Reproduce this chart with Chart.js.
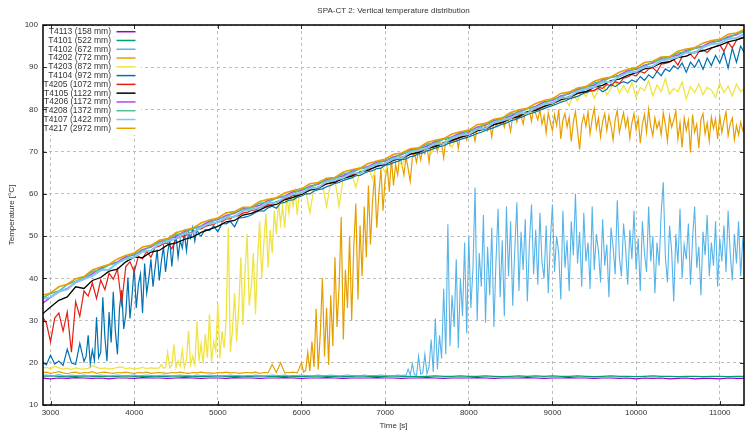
<!DOCTYPE html>
<html>
<head>
<meta charset="utf-8">
<title>SPA-CT 2: Vertical temperature distribution</title>
<script src="https://cdn.jsdelivr.net/npm/chart.js@4.4.1/dist/chart.umd.min.js"></script>
<style>
    html, body { margin: 0; padding: 0; background: #fff; }
    #wrap { width: 747px; height: 432px; }
</style>
</head>
<body>
<div id="wrap"><canvas id="tempChart" width="747" height="432"></canvas></div>
<script>
// Sample times [s]
const timeFine = [
    2900, 2950, 3000, 3050, 3100, 3150, 3200, 3250, 3300, 3350,
    3400, 3450, 3500, 3550, 3600, 3650, 3700, 3750, 3800, 3850,
    3900, 3950, 4000, 4050, 4100, 4150, 4200, 4250, 4300, 4350,
    4400, 4450, 4500, 4550, 4600, 4650, 4700, 4750, 4800, 4850,
    4900, 4950, 5000, 5050, 5100, 5150, 5200, 5250, 5300, 5350,
    5400, 5450, 5500, 5550, 5600, 5650, 5700, 5750, 5800, 5850,
    5900, 5950, 6000, 6050, 6100, 6150, 6200, 6250, 6300, 6350,
    6400, 6450, 6500, 6550, 6600, 6650, 6700, 6750, 6800, 6850,
    6900, 6950, 7000, 7050, 7100, 7150, 7200, 7250, 7300, 7350,
    7400, 7450, 7500, 7550, 7600, 7650, 7700, 7750, 7800, 7850,
    7900, 7950, 8000, 8050, 8100, 8150, 8200, 8250, 8300, 8350,
    8400, 8450, 8500, 8550, 8600, 8650, 8700, 8750, 8800, 8850,
    8900, 8950, 9000, 9050, 9100, 9150, 9200, 9250, 9300, 9350,
    9400, 9450, 9500, 9550, 9600, 9650, 9700, 9750, 9800, 9850,
    9900, 9950, 10000, 10050, 10100, 10150, 10200, 10250, 10300, 10350,
    10400, 10450, 10500, 10550, 10600, 10650, 10700, 10750, 10800, 10850,
    10900, 10950, 11000, 11050, 11100, 11150, 11200, 11250, 11300
];
const timeCoarse = [
    2900, 3000, 3100, 3200, 3300, 3400, 3500, 3600, 3700, 3800,
    3900, 4000, 4100, 4200, 4300, 4400, 4500, 4600, 4700, 4800,
    4900, 5000, 5100, 5200, 5300, 5400, 5500, 5600, 5700, 5800,
    5900, 6000, 6100, 6200, 6300, 6400, 6500, 6600, 6700, 6800,
    6900, 7000, 7100, 7200, 7300, 7400, 7500, 7600, 7700, 7800,
    7900, 8000, 8100, 8200, 8300, 8400, 8500, 8600, 8700, 8800,
    8900, 9000, 9100, 9200, 9300, 9400, 9500, 9600, 9700, 9800,
    9900, 10000, 10100, 10200, 10300, 10400, 10500, 10600, 10700, 10800,
    10900, 11000, 11100, 11200, 11300
];
// 25 s windows where a sensor rises quickly
const timeRiseA = [
    3400, 3425, 3450, 3475, 3500, 3525, 3550, 3575,
    3600, 3625, 3650, 3675, 3700, 3725, 3750, 3775,
    3800, 3825, 3850, 3875, 3900, 3925, 3950, 3975,
    4000, 4025, 4050, 4075, 4100, 4125, 4150, 4175,
    4200, 4225, 4250, 4275, 4300, 4325, 4350, 4375,
    4400, 4425, 4450, 4475, 4500, 4525, 4550, 4575,
    4600, 4625, 4650, 4675, 4700, 4725, 4750, 4775
];
const timeRiseB = [
    4300, 4325, 4350, 4375, 4400, 4425, 4450, 4475,
    4500, 4525, 4550, 4575, 4600, 4625, 4650, 4675,
    4700, 4725, 4750, 4775, 4800, 4825, 4850, 4875,
    4900, 4925, 4950, 4975, 5000, 5025, 5050, 5075,
    5100, 5125, 5150, 5175, 5200, 5225, 5250, 5275,
    5300, 5325, 5350, 5375, 5400, 5425, 5450, 5475,
    5500, 5525, 5550, 5575, 5600, 5625, 5650, 5675,
    5700, 5725, 5750, 5775, 5800, 5825, 5850, 5875,
    5900, 5925, 5950, 5975
];
const timeRiseC = [
    6000, 6025, 6050, 6075, 6100, 6125, 6150, 6175,
    6200, 6225, 6250, 6275, 6300, 6325, 6350, 6375,
    6400, 6425, 6450, 6475, 6500, 6525, 6550, 6575,
    6600, 6625, 6650, 6675, 6700, 6725, 6750, 6775,
    6800, 6825, 6850, 6875, 6900, 6925, 6950, 6975,
    7000, 7025, 7050, 7075, 7100, 7125, 7150, 7175
];
const timeDense = [
    7200, 7225, 7250, 7275, 7300, 7325, 7350, 7375,
    7400, 7425, 7450, 7475, 7500, 7525, 7550, 7575,
    7600, 7625, 7650, 7675, 7700, 7725, 7750, 7775,
    7800, 7825, 7850, 7875, 7900, 7925, 7950, 7975,
    8000, 8025, 8050, 8075, 8100, 8125, 8150, 8175,
    8200, 8225, 8250, 8275, 8300, 8325, 8350, 8375,
    8400, 8425, 8450, 8475, 8500, 8525, 8550, 8575,
    8600, 8625, 8650, 8675, 8700, 8725, 8750, 8775,
    8800, 8825, 8850, 8875, 8900, 8925, 8950, 8975,
    9000, 9025, 9050, 9075, 9100, 9125, 9150, 9175,
    9200, 9225, 9250, 9275, 9300, 9325, 9350, 9375,
    9400, 9425, 9450, 9475, 9500, 9525, 9550, 9575,
    9600, 9625, 9650, 9675, 9700, 9725, 9750, 9775,
    9800, 9825, 9850, 9875, 9900, 9925, 9950, 9975,
    10000, 10025, 10050, 10075, 10100, 10125, 10150, 10175,
    10200, 10225, 10250, 10275, 10300, 10325, 10350, 10375,
    10400, 10425, 10450, 10475, 10500, 10525, 10550, 10575,
    10600, 10625, 10650, 10675, 10700, 10725, 10750, 10775,
    10800, 10825, 10850, 10875, 10900, 10925, 10950, 10975,
    11000, 11025, 11050, 11075, 11100, 11125, 11150, 11175,
    11200, 11225, 11250, 11275, 11300
];

// Temperatures [°C]
const t4113 = [
    16.4, 16.2, 16.4, 16.3, 16.5, 16.4, 16.3, 16.4, 16.2, 16.4,
    16.4, 16.3, 16.5, 16.4, 16.4, 16.3, 16.4, 16.5, 16.4, 16.3,
    16.4, 16.4, 16.3, 16.5, 16.4, 16.4, 16.3, 16.4, 16.4, 16.5,
    16.4, 16.3, 16.4, 16.4, 16.5, 16.4, 16.3, 16.4, 16.4, 16.4,
    16.5, 16.4, 16.4, 16.3, 16.4, 16.4, 16.5, 16.4, 16.3, 16.4,
    16.4, 16.4, 16.5, 16.4, 16.3, 16.4, 16.4, 16.4, 16.5, 16.4,
    16.3, 16.4, 16.4, 16.5, 16.4, 16.4, 16.3, 16.4, 16.4, 16.3,
    16.4, 16.2, 16.4, 16.3, 16.4, 16.2, 16.3, 16.4, 16.2, 16.3,
    16.3, 16.2, 16.4, 16.3, 16.3
];
const t4101 = [
    16.8, 16.9, 16.8, 16.7, 16.8, 16.9, 16.8, 16.8, 16.7, 16.8,
    16.9, 16.8, 16.8, 16.7, 16.8, 16.8, 16.9, 16.8, 16.7, 16.8,
    16.8, 16.9, 16.8, 16.8, 16.7, 16.8, 16.9, 16.8, 16.8, 16.8,
    16.7, 16.8, 16.8, 16.9, 16.8, 16.8, 16.7, 16.8, 16.9, 16.8,
    16.8, 16.8, 16.9, 16.8, 16.8, 16.7, 16.8, 16.9, 16.8, 16.8,
    16.9, 16.8, 16.8, 16.9, 16.8, 16.7, 16.8, 16.9, 16.8, 16.9,
    16.8, 16.9, 16.8, 16.8, 16.9, 16.8, 16.7, 16.8, 16.9, 16.8,
    16.8, 16.7, 16.8, 16.9, 16.8, 16.8, 16.7, 16.8, 16.8, 16.7,
    16.8, 16.8, 16.7, 16.8, 16.8
];
const t4102Early = [
    17.0, 17.1, 16.9, 17.0, 17.2, 17.0, 16.9, 17.1, 17.0, 17.0,
    17.1, 16.9, 17.0, 17.0, 17.1, 17.0, 16.9, 17.0, 17.1, 17.0,
    17.0, 17.0, 17.1, 16.9, 17.0, 17.1, 17.0, 16.9, 17.0, 17.1,
    17.0, 16.9, 17.0, 17.1, 17.0, 17.0, 16.9, 17.1, 17.0, 17.0,
    17.1, 17.0, 16.9, 17.0, 17.0, 17.1, 17.0, 17.0, 16.9, 17.0,
    17.0, 17.1, 17.0, 16.9, 17.0, 17.1, 17.0, 17.0, 17.1, 16.9,
    17.0, 17.0, 17.1, 17.0, 16.9, 17.0, 17.1, 17.0, 17.0, 17.1,
    17.0, 16.9, 17.0, 17.1, 17.0, 17.0, 16.9, 17.1, 17.0, 17.0,
    17.0, 17.1, 17.0, 17.0, 16.9, 17.1
];
const t4102Late = [
    17.0, 17.1, 17.0, 18.5, 17.1, 19.8, 17.2, 17.0,
    21.5, 17.3, 17.6, 22.0, 17.4, 19.0, 25.5, 17.8,
    30.5, 18.4, 26.5, 21.0, 37.5, 22.0, 52.8, 24.0,
    36.0, 28.5, 44.5, 23.5, 40.0, 31.0, 48.5, 27.0,
    50.0, 33.0, 42.5, 61.5, 30.0, 46.0, 38.0, 55.0,
    29.5, 47.5, 36.0, 52.0, 28.5, 44.0, 56.5, 35.5,
    49.0, 31.0, 57.0, 40.5, 53.5, 33.5, 47.0, 58.0,
    37.0, 51.0, 42.0, 54.0, 34.5, 48.5, 57.5, 41.0,
    51.5, 38.5, 55.5, 44.0, 40.0, 52.5, 36.5, 49.0,
    57.5, 41.5, 50.0, 46.0, 35.0, 56.0, 42.5, 49.0,
    37.0, 53.5, 45.5, 60.0, 43.5, 51.0, 38.0, 55.5,
    44.0, 48.5, 37.5, 57.0, 42.0, 50.5, 46.5, 39.0,
    54.0, 43.0, 48.0, 35.5, 52.0, 47.5, 41.0, 58.5,
    45.0, 40.5, 53.0, 47.0, 38.5, 51.5, 44.5, 56.0,
    42.0, 49.5, 37.0, 53.5, 46.0, 41.5, 57.0, 44.0,
    50.0, 36.5, 48.5, 43.0, 55.5, 62.8, 45.0, 39.0,
    52.5, 46.5, 34.5, 50.5, 43.5, 56.5, 40.0, 48.0,
    44.5, 53.0, 38.5, 49.5, 57.0, 42.5, 47.5, 36.0,
    51.0, 45.5, 55.0, 40.5, 48.5, 43.0, 53.5, 38.0,
    49.5, 44.0, 52.5, 41.5, 56.0, 46.0, 39.5, 50.5,
    43.5, 53.5, 40.5, 49.0, 46.0
];
const t4202Start = [
    17.6, 17.8, 17.5, 17.7, 17.9, 17.6, 17.4, 17.7, 17.8, 17.5,
    17.7, 17.6, 17.9, 17.5, 17.7, 17.8, 17.6, 17.5, 17.7, 17.6,
    17.8, 17.6, 17.5, 17.7, 17.6, 17.8, 17.5, 17.6, 17.7, 17.6,
    17.5, 17.7, 17.6, 17.8, 17.6, 17.5, 17.7, 17.6, 17.8, 17.6,
    17.6, 17.5, 17.7, 17.6, 17.8, 17.6, 17.7, 17.5, 17.6, 17.7,
    17.6, 17.8, 17.5, 17.7, 17.6, 19.6, 17.7, 20.0, 17.6, 17.7,
    17.8, 17.6
];
const t4202Rise = [
    20.0, 17.8, 18.2, 22.5, 18.0, 25.0, 19.0, 32.8,
    18.4, 27.0, 40.0, 21.5, 33.0, 19.5, 36.0, 24.0,
    45.0, 28.5, 38.0, 54.5, 25.5, 42.0, 33.0, 50.0,
    30.0, 47.5, 57.7, 35.0, 52.5, 40.5, 57.0, 45.0,
    62.0, 48.0, 58.5, 64.5, 52.0, 60.0, 66.0, 56.0,
    63.5, 66.5, 60.5, 68.5, 62.0, 67.0, 64.5, 69.0
];
const t4202Late = [
    67.0, 64.5, 68.8, 66.0, 63.0, 68.5, 69.6, 67.5,
    70.3, 68.0, 70.8, 69.5, 71.2, 67.5, 71.6, 70.9,
    72.2, 70.0, 72.5, 71.8, 68.5, 72.9, 73.2, 71.5,
    73.4, 72.6, 73.9, 70.8, 74.2, 73.5, 74.6, 72.8,
    74.8, 73.9, 75.1, 72.5, 75.6, 74.9, 76.0, 75.2,
    76.3, 75.0, 76.7, 73.5, 77.0, 76.2, 77.4, 76.6,
    77.7, 75.8, 78.0, 77.3, 74.8, 78.5, 78.8, 77.0,
    79.1, 78.4, 76.5, 79.5, 78.8, 79.8, 77.2, 80.1,
    79.0, 77.5, 80.0, 76.5, 78.5, 74.5, 79.2, 77.0,
    75.0, 78.8, 76.2, 80.0, 73.0, 77.5, 79.0, 75.8,
    78.2, 72.4, 77.0, 79.5, 74.8, 70.5, 76.5, 78.6,
    76.0, 79.4, 74.2, 77.8, 80.3, 75.5, 78.0, 73.5,
    77.2, 79.0, 75.0, 78.5, 76.2, 72.8, 77.6, 79.8,
    74.5, 77.0, 79.2, 75.8, 78.0, 73.2, 76.8, 79.0,
    75.2, 77.8, 72.0, 76.5, 78.8, 74.6, 80.0, 76.0,
    73.8, 78.0, 75.5, 77.2, 74.0, 79.2, 76.4, 72.5,
    78.5, 75.8, 77.5, 79.6, 73.0, 76.8, 71.0, 78.0,
    75.0, 77.4, 69.8, 78.8, 74.6, 76.5, 70.8, 77.6,
    79.0, 74.2, 76.8, 72.5, 78.2, 75.5, 77.8, 73.0,
    78.5, 74.5, 77.2, 79.4, 73.8, 76.6, 78.0, 72.8,
    76.2, 74.0, 77.0, 75.0, 76.5
];
const t4203Start = [
    18.7, 18.9, 18.6, 19.2, 18.8, 18.5, 18.7, 18.4, 18.8, 18.6,
    18.5, 18.7, 19.3, 18.9, 18.6, 18.8, 18.5, 18.7, 18.9, 19.0,
    18.6, 18.8, 18.5, 18.7, 18.9, 18.6, 18.8, 18.7
];
const t4203Rise = [
    18.8, 19.6, 18.7, 18.9, 22.5, 18.8, 19.4, 24.3,
    18.9, 20.5, 19.2, 23.0, 18.8, 20.8, 27.5, 19.6,
    21.5, 19.5, 29.8, 20.4, 24.5, 19.8, 26.8, 21.2,
    31.5, 20.2, 25.0, 22.8, 34.0, 21.0, 27.5, 23.5,
    30.5, 52.0, 22.5, 28.0, 36.5, 25.0, 33.0, 45.0,
    29.0, 41.5, 50.5, 33.5, 38.0, 46.0, 31.5, 44.5,
    53.5, 40.0, 48.5, 55.4, 42.5, 51.5, 46.0, 56.0,
    50.5, 58.2, 53.0, 57.0, 52.0, 59.8, 55.5, 60.0,
    57.0, 60.5, 55.0, 61.0
];
const t4203Rest = [
    59.6, 60.9, 55.5, 61.6, 61.4, 62.2, 57.0, 63.0,
    63.3, 57.0, 64.1, 64.2, 64.8, 61.5, 65.5, 65.8, 66.2, 63.5,
    66.8, 67.1, 65.0, 67.9, 68.2, 68.5, 66.5, 69.3, 69.6, 69.9,
    70.3, 70.6, 71.0, 69.5, 71.7, 72.0, 72.3, 72.6, 71.0, 73.4,
    73.7, 74.0, 74.4, 74.7, 75.1, 75.4, 75.8, 76.2, 76.5, 76.9,
    77.0, 77.3, 77.8, 78.0, 78.2, 78.6, 79.0, 79.2, 79.6, 80.0,
    80.5, 81.3, 81.0, 82.2, 81.8, 82.6, 80.9, 83.5, 82.0, 84.3,
    83.0, 85.5, 82.6, 84.8, 86.2, 83.4, 85.0, 87.0, 83.8, 85.6,
    84.0, 86.4, 82.8, 85.2, 84.5, 86.8, 83.2, 85.8, 84.2, 87.3,
    83.6, 85.0, 84.2, 86.5, 82.5, 85.4, 84.0, 86.0, 83.5, 85.2,
    84.6, 82.8, 86.3, 84.0, 85.5, 83.2, 86.0, 84.2, 85.0
];
const t4104Start = [
    20.2, 19.5, 21.8, 19.7, 20.4, 19.4, 23.2, 20.0, 19.6, 24.6
];
const t4104Rise = [
    20.3, 21.5, 26.5, 19.8, 23.0, 20.5, 30.8, 21.2,
    22.5, 35.5, 26.0, 20.4, 32.0, 24.8, 36.8, 27.5,
    22.0, 33.0, 37.2, 28.0, 31.5, 40.2, 30.5, 36.0,
    42.8, 33.0, 38.5, 41.0, 31.8, 43.5, 36.5, 40.0,
    44.5, 38.0, 42.5, 46.8, 39.5, 44.0, 47.5, 41.5,
    46.0, 49.2, 42.8, 48.0, 50.3, 45.0, 49.0, 47.2,
    50.8, 46.5, 51.0, 49.5, 52.0, 48.8, 51.6, 50.4
];
const t4104Rest = [
    50.0, 51.6,
    51.3, 52.4, 51.0, 53.0, 52.9, 53.5, 52.2, 54.3, 54.4, 54.6,
    55.0, 55.6, 56.0, 55.9, 56.7, 57.1, 56.6, 57.8, 58.0, 58.5,
    58.6, 59.2, 59.5, 60.0, 60.0, 60.7, 61.0, 61.2, 61.7, 62.0,
    62.5, 62.7, 63.2, 63.5, 63.8, 64.3, 64.4, 64.9, 65.3, 65.5,
    66.0, 66.1, 66.8, 67.0, 67.4, 67.7, 68.1, 68.3, 68.8, 69.0,
    69.5, 69.7, 70.2, 70.5, 70.8, 71.2, 71.4, 71.9, 72.2, 72.5,
    72.9, 73.2, 73.5, 73.9, 74.3, 74.6, 75.0, 75.4, 75.7, 76.1,
    76.5, 76.8, 77.3, 77.6, 78.0, 78.3, 78.8, 79.1, 79.4, 79.8,
    80.2, 80.6, 80.9, 81.3, 81.7, 82.0, 82.5, 82.8, 83.1, 83.6,
    84.0, 84.3, 84.6, 85.0, 84.2, 84.8, 86.0, 85.4, 86.1, 86.6,
    86.2, 87.0, 86.5, 87.8, 86.9, 88.2, 87.4, 89.0, 88.0, 89.6,
    89.0, 90.4, 89.6, 91.0, 88.8, 91.2, 90.0, 91.8, 89.5, 92.2,
    90.4, 92.8, 91.0, 93.6, 89.8, 94.5, 91.2, 95.0, 93.2
];
const t4205 = [
    31.0, 29.4, 25.0, 30.6, 31.8, 27.5, 32.0, 22.5, 34.5, 31.0,
    37.0, 35.8, 38.9, 35.2, 39.6, 37.3, 41.2, 39.8, 42.2, 34.0,
    42.8, 43.9, 41.5, 45.2, 44.6, 46.4, 45.0, 47.3, 47.6, 48.2,
    48.4, 47.0, 49.3, 49.8, 50.0, 50.6, 50.9, 51.5, 51.7, 52.3,
    52.6, 52.7, 53.5, 53.4, 54.1, 54.1, 54.8, 54.8, 55.5, 55.6,
    56.1, 56.2, 56.8, 57.0, 57.5, 57.6, 58.2, 58.4, 58.9, 59.1,
    59.6, 59.7, 60.3, 60.5, 61.0, 61.1, 61.7, 61.9, 62.4, 62.6,
    63.1, 63.2, 63.8, 64.0, 64.5, 64.7, 65.2, 65.4, 65.9, 66.1,
    66.6, 66.8, 67.3, 67.5, 68.0, 68.2, 68.7, 68.9, 69.4, 69.6,
    70.1, 70.3, 70.8, 71.0, 71.5, 71.6, 72.1, 72.4, 72.8, 73.1,
    73.5, 73.7, 74.2, 74.4, 74.9, 75.2, 75.7, 75.9, 76.4, 76.7,
    77.1, 77.4, 77.9, 78.1, 78.6, 78.9, 79.4, 79.6, 80.1, 80.4,
    80.8, 81.1, 81.6, 81.8, 82.3, 82.6, 83.1, 83.3, 83.8, 84.1,
    84.2, 84.5, 84.4, 85.2, 85.0, 85.9, 85.6, 86.6, 86.2, 87.4,
    87.7, 88.3, 87.9, 89.0, 88.6, 89.6, 89.9, 88.9, 90.7, 90.9,
    91.2, 91.8, 90.5, 92.5, 92.6, 93.1, 92.0, 93.7, 94.1, 93.5,
    94.5, 94.9, 95.3, 93.8, 95.9, 94.6, 96.4, 96.9, 97.2
];
const t4105 = [
    31.5, 33.2, 34.8, 35.6, 38.0, 37.6, 39.5, 40.2, 41.7, 42.2,
    43.9, 45.0, 44.9, 46.2, 46.6, 47.9, 48.4, 49.2, 49.8, 50.9,
    51.6, 52.3, 53.4, 53.7, 55.0, 55.4, 56.2, 57.1, 57.5, 58.6,
    59.2, 59.9, 60.9, 61.3, 62.4, 62.7, 63.7, 64.2, 65.1, 65.6,
    66.5, 67.0, 68.0, 68.4, 69.4, 69.8, 70.8, 71.2, 72.1, 72.6,
    73.4, 74.0, 75.0, 75.4, 76.4, 76.9, 77.9, 78.3, 79.4, 79.8,
    80.7, 81.4, 82.3, 82.8, 83.8, 84.2, 85.3, 85.7, 86.8, 87.2,
    88.1, 88.7, 89.6, 90.0, 91.0, 91.3, 92.3, 92.6, 93.6, 93.9,
    94.6, 95.2, 96.0, 96.5, 97.1
];
const t4206 = [
    34.0, 35.5, 36.8, 37.6, 39.0, 39.8, 41.1, 42.4, 43.2, 43.9,
    45.1, 45.6, 46.8, 47.4, 48.7, 49.3, 49.9, 51.1, 51.8, 52.4,
    53.5, 53.9, 54.9, 55.4, 56.5, 56.8, 57.3, 58.4, 59.0, 59.5,
    60.5, 60.8, 61.8, 62.3, 63.4, 63.8, 64.3, 65.4, 66.0, 66.5,
    67.5, 67.8, 68.8, 69.3, 70.4, 70.8, 71.3, 72.4, 73.0, 73.5,
    74.4, 74.7, 75.8, 76.3, 77.4, 77.9, 78.4, 79.6, 80.2, 80.7,
    81.8, 82.1, 83.2, 83.7, 84.8, 85.3, 85.8, 87.0, 87.6, 88.1,
    89.2, 89.5, 90.5, 91.0, 92.1, 92.4, 92.9, 94.0, 94.5, 95.0,
    96.0, 96.2, 97.2, 97.7, 98.7
];
const t4208 = [
    35.3, 36.4, 37.0, 38.5, 39.3, 40.2, 41.6, 42.0, 43.2, 43.7,
    44.7, 45.9, 46.4, 47.7, 48.4, 49.2, 50.4, 50.7, 51.8, 52.2,
    53.1, 54.2, 54.5, 55.7, 56.2, 56.7, 57.8, 58.0, 59.0, 59.3,
    60.1, 61.1, 61.4, 62.6, 63.1, 63.7, 64.8, 65.0, 66.0, 66.3,
    67.1, 68.1, 68.4, 69.6, 70.1, 70.7, 71.8, 72.0, 73.0, 73.3,
    74.0, 75.0, 75.4, 76.6, 77.1, 77.8, 78.9, 79.2, 80.2, 80.5,
    81.4, 82.4, 82.8, 84.0, 84.5, 85.2, 86.3, 86.6, 87.6, 87.9,
    88.8, 89.8, 90.1, 91.3, 91.8, 92.3, 93.4, 93.6, 94.5, 94.8,
    95.6, 96.5, 96.8, 98.0, 98.4
];
const t4107 = [
    35.2, 35.5, 36.9, 37.4, 39.1, 39.8, 40.6, 41.9, 42.1, 43.6,
    44.6, 45.0, 46.3, 46.6, 48.2, 48.8, 49.4, 50.6, 50.7, 52.1,
    53.0, 53.3, 54.4, 54.6, 56.0, 56.3, 56.8, 57.9, 57.9, 59.2,
    60.0, 60.2, 61.3, 61.5, 62.9, 63.3, 63.8, 64.9, 64.9, 66.2,
    67.0, 67.2, 68.3, 68.5, 69.9, 70.3, 70.8, 71.9, 71.9, 73.2,
    73.9, 74.1, 75.3, 75.5, 76.9, 77.4, 77.9, 79.1, 79.1, 80.4,
    81.3, 81.5, 82.7, 82.9, 84.3, 84.8, 85.3, 86.5, 86.5, 87.8,
    88.7, 88.9, 90.0, 90.2, 91.6, 91.9, 92.4, 93.5, 93.4, 94.7,
    95.5, 95.6, 96.7, 96.9, 98.0
];
const t4217 = [
    36.0, 36.5, 38.0, 38.6, 39.9, 40.4, 42.0, 42.7, 43.3, 44.6,
    45.4, 46.0, 47.4, 47.8, 49.0, 49.4, 50.8, 51.4, 51.9, 53.1,
    53.8, 54.3, 55.5, 55.8, 56.8, 56.9, 58.2, 58.7, 59.1, 60.2,
    60.8, 61.2, 62.4, 62.7, 63.7, 63.9, 65.2, 65.7, 66.1, 67.2,
    67.8, 68.2, 69.4, 69.7, 70.7, 70.9, 72.2, 72.7, 73.1, 74.2,
    74.7, 75.1, 76.4, 76.7, 77.7, 78.0, 79.3, 79.9, 80.3, 81.4,
    82.1, 82.5, 83.8, 84.1, 85.1, 85.4, 86.7, 87.3, 87.7, 88.8,
    89.5, 89.9, 91.1, 91.4, 92.4, 92.5, 93.8, 94.3, 94.6, 95.7,
    96.3, 96.6, 97.8, 98.1, 99.0
];

const yTicks = [10, 20, 30, 40, 50, 60, 70, 80, 90, 100];
const xTicks = [3000, 4000, 5000, 6000, 7000, 8000, 9000, 10000, 11000];

const FONT = '"Liberation Sans", Arial, sans-serif';

const sensors = [
    { label: 'T4113 (158 mm)',  color: '#9400d3', width: 1.2,
      time: timeCoarse, temp: t4113 },
    { label: 'T4101 (522 mm)',  color: '#009e73', width: 1.2,
      time: timeCoarse, temp: t4101 },
    { label: 'T4102 (672 mm)',  color: '#56b4e9', width: 1.1,
      time: timeFine.slice(0, 86).concat(timeDense),
      temp: t4102Early.concat(t4102Late) },
    { label: 'T4202 (772 mm)',  color: '#e69f00', width: 1.2,
      time: timeFine.slice(0, 62).concat(timeRiseC, timeDense),
      temp: t4202Start.concat(t4202Rise, t4202Late) },
    { label: 'T4203 (872 mm)',  color: '#f0e442', width: 1.3,
      time: timeFine.slice(0, 28).concat(timeRiseB, timeFine.slice(62)),
      temp: t4203Start.concat(t4203Rise, t4203Rest) },
    { label: 'T4104 (972 mm)',  color: '#0072b2', width: 1.2,
      time: timeFine.slice(0, 10).concat(timeRiseA, timeFine.slice(38)),
      temp: t4104Start.concat(t4104Rise, t4104Rest) },
    { label: 'T4205 (1072 mm)', color: '#e51e10', width: 1.2,
      time: timeFine, temp: t4205 },
    { label: 'T4105 (1122 mm)', color: '#000000', width: 1.3,
      time: timeCoarse, temp: t4105 },
    { label: 'T4206 (1172 mm)', color: '#a64ee6', width: 1.5,
      time: timeCoarse, temp: t4206 },
    { label: 'T4208 (1372 mm)', color: '#4fbf9a', width: 1.5,
      time: timeCoarse, temp: t4208 },
    { label: 'T4107 (1422 mm)', color: '#7fc6f0', width: 2,
      time: timeCoarse, temp: t4107 },
    { label: 'T4217 (2972 mm)', color: '#e69f00', width: 1.6,
      time: timeCoarse, temp: t4217 }
];

// gnuplot style: later curves on top, key box inside top left
const frameAndKey = {
    id: 'frameAndKey',
    afterDraw(chart) {
        const { ctx, chartArea: a, scales: { x, y } } = chart;
        ctx.save();

        // key
        ctx.fillStyle = '#fff';
        ctx.fillRect(a.left + 1, a.top + 1, 97, 109);
        ctx.font = '8.5px ' + FONT;
        ctx.textAlign = 'right';
        ctx.textBaseline = 'middle';
        chart.data.datasets.forEach((ds, i) => {
            const ky = 31.7 + i * 8.78;
            ctx.fillStyle = '#333';
            ctx.fillText(ds.label, 111, ky);
            ctx.strokeStyle = ds.borderColor;
            ctx.lineWidth = 1.5;
            ctx.beginPath();
            ctx.moveTo(116.5, ky);
            ctx.lineTo(135.5, ky);
            ctx.stroke();
        });

        // inward tick marks
        ctx.strokeStyle = '#333';
        ctx.lineWidth = 1;
        ctx.beginPath();
        yTicks.forEach(v => {
            const py = Math.round(y.getPixelForValue(v)) + 0.5;
            ctx.moveTo(a.left, py); ctx.lineTo(a.left + 4, py);
            ctx.moveTo(a.right, py); ctx.lineTo(a.right - 4, py);
        });
        xTicks.forEach(v => {
            const px = Math.round(x.getPixelForValue(v)) + 0.5;
            ctx.moveTo(px, a.bottom); ctx.lineTo(px, a.bottom - 4);
            ctx.moveTo(px, a.top); ctx.lineTo(px, a.top + 4);
        });
        ctx.stroke();

        // frame
        ctx.strokeStyle = '#000';
        ctx.lineWidth = 1.5;
        ctx.strokeRect(a.left, a.top, a.right - a.left, a.bottom - a.top);

        // titles
        const cx = (a.left + a.right) / 2;
        ctx.fillStyle = '#333';
        ctx.textAlign = 'center';
        ctx.font = '8px ' + FONT;
        ctx.fillText('SPA-CT 2: Vertical temperature distribution', cx, 11);
        ctx.fillText('Time [s]', cx, 426);
        ctx.translate(12, (a.top + a.bottom) / 2);
        ctx.rotate(-Math.PI / 2);
        ctx.fillText('Temperature [°C]', 0, 0);
        ctx.restore();
    }
};

const ctx = document.getElementById('tempChart').getContext('2d');
let tempChartInstance = new Chart(ctx, {
    type: 'line',
    data: {
        datasets: sensors.map((s, i) => ({
            label: s.label,
            data: s.time.map((t, k) => ({ x: t, y: s.temp[k] })),
            borderColor: s.color,
            borderWidth: s.width,
            pointRadius: 0,
            tension: 0,
            fill: false,
            order: sensors.length - i
        }))
    },
    options: {
        responsive: false,
        animation: false,
        events: [],
        parsing: false,
        layout: {
            padding: { top: 25, right: 3, left: 0, bottom: 0 }
        },
        scales: {
            x: {
                type: 'linear',
                min: 2910,
                max: 11290,
                afterFit: (scale) => { scale.height = 27; },
                afterBuildTicks: (scale) => { scale.ticks = xTicks.map(v => ({ value: v })); },
                ticks: {
                    padding: 3,
                    color: '#333',
                    font: { family: FONT, size: 8 },
                    callback: (v) => String(v)
                },
                grid: { color: '#bdbdbd', lineWidth: 1, drawTicks: false },
                border: { display: false, dash: [3, 3] }
            },
            y: {
                min: 10,
                max: 100,
                afterFit: (scale) => { scale.width = 43; },
                afterBuildTicks: (scale) => { scale.ticks = yTicks.map(v => ({ value: v })); },
                ticks: {
                    padding: 5,
                    color: '#333',
                    font: { family: FONT, size: 8 },
                    callback: (v) => String(v)
                },
                grid: { color: '#bdbdbd', lineWidth: 1, drawTicks: false },
                border: { display: false, dash: [3, 3] }
            }
        },
        plugins: {
            legend: { display: false },
            title: { display: false },
            tooltip: { enabled: false }
        }
    },
    plugins: [frameAndKey]
});
</script>
</body>
</html>
